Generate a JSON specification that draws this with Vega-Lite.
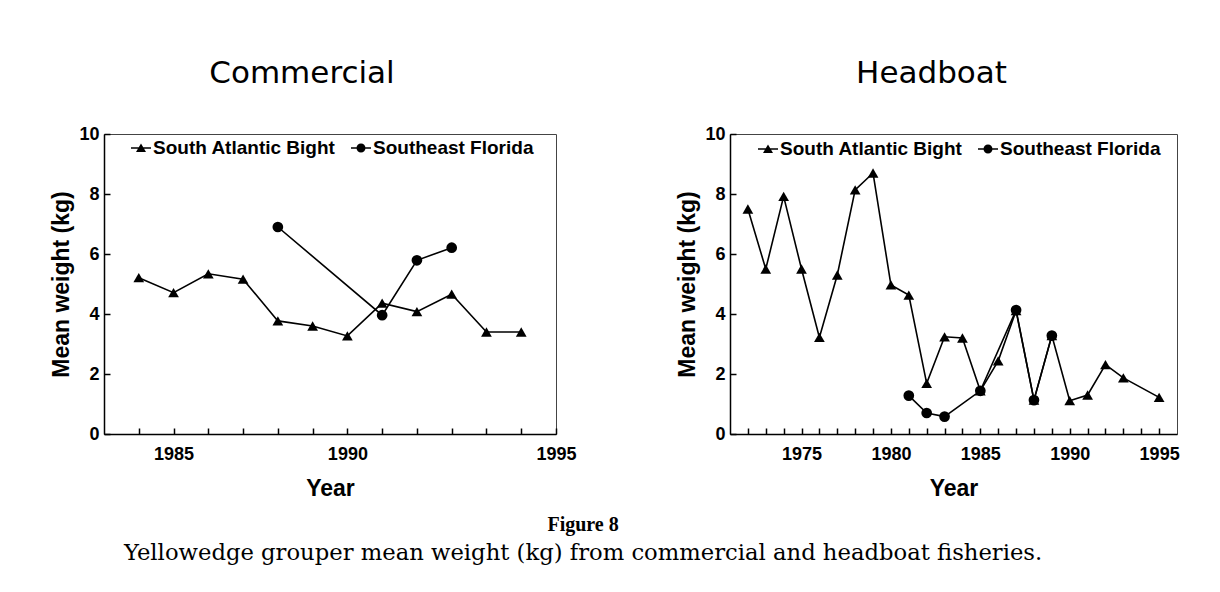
{
  "$schema": "https://vega.github.io/schema/vega-lite/v6.json",
  "autosize": {"type": "pad"},
  "padding": {"left": 50, "top": 57, "right": 10, "bottom": 20},
  "background": "white",
  "datasets": {
    "commercial": [
      {"series": "South Atlantic Bight", "year": 1984, "weight": 5.21},
      {"series": "South Atlantic Bight", "year": 1985, "weight": 4.71},
      {"series": "South Atlantic Bight", "year": 1986, "weight": 5.34},
      {"series": "South Atlantic Bight", "year": 1987, "weight": 5.16},
      {"series": "South Atlantic Bight", "year": 1988, "weight": 3.77},
      {"series": "South Atlantic Bight", "year": 1989, "weight": 3.6},
      {"series": "South Atlantic Bight", "year": 1990, "weight": 3.27},
      {"series": "South Atlantic Bight", "year": 1991, "weight": 4.36},
      {"series": "South Atlantic Bight", "year": 1992, "weight": 4.08},
      {"series": "South Atlantic Bight", "year": 1993, "weight": 4.66},
      {"series": "South Atlantic Bight", "year": 1994, "weight": 3.4},
      {"series": "South Atlantic Bight", "year": 1995, "weight": 3.4},
      {"series": "Southeast Florida", "year": 1988, "weight": 6.9},
      {"series": "Southeast Florida", "year": 1991, "weight": 3.96},
      {"series": "Southeast Florida", "year": 1992, "weight": 5.79},
      {"series": "Southeast Florida", "year": 1993, "weight": 6.21}
    ],
    "headboat": [
      {"series": "South Atlantic Bight", "year": 1972, "weight": 7.5},
      {"series": "South Atlantic Bight", "year": 1973, "weight": 5.5},
      {"series": "South Atlantic Bight", "year": 1974, "weight": 7.92},
      {"series": "South Atlantic Bight", "year": 1975, "weight": 5.5},
      {"series": "South Atlantic Bight", "year": 1976, "weight": 3.22},
      {"series": "South Atlantic Bight", "year": 1977, "weight": 5.3},
      {"series": "South Atlantic Bight", "year": 1978, "weight": 8.14},
      {"series": "South Atlantic Bight", "year": 1979, "weight": 8.7},
      {"series": "South Atlantic Bight", "year": 1980, "weight": 4.97},
      {"series": "South Atlantic Bight", "year": 1981, "weight": 4.63},
      {"series": "South Atlantic Bight", "year": 1982, "weight": 1.69},
      {"series": "South Atlantic Bight", "year": 1983, "weight": 3.24},
      {"series": "South Atlantic Bight", "year": 1984, "weight": 3.2},
      {"series": "South Atlantic Bight", "year": 1985, "weight": 1.44},
      {"series": "South Atlantic Bight", "year": 1986, "weight": 2.44},
      {"series": "South Atlantic Bight", "year": 1987, "weight": 4.11},
      {"series": "South Atlantic Bight", "year": 1988, "weight": 1.13},
      {"series": "South Atlantic Bight", "year": 1989, "weight": 3.28},
      {"series": "South Atlantic Bight", "year": 1990, "weight": 1.11},
      {"series": "South Atlantic Bight", "year": 1991, "weight": 1.3},
      {"series": "South Atlantic Bight", "year": 1992, "weight": 2.31},
      {"series": "South Atlantic Bight", "year": 1993, "weight": 1.87},
      {"series": "South Atlantic Bight", "year": 1995, "weight": 1.22},
      {"series": "Southeast Florida", "year": 1981, "weight": 1.28},
      {"series": "Southeast Florida", "year": 1982, "weight": 0.7},
      {"series": "Southeast Florida", "year": 1983, "weight": 0.58},
      {"series": "Southeast Florida", "year": 1985, "weight": 1.44},
      {"series": "Southeast Florida", "year": 1987, "weight": 4.13},
      {"series": "Southeast Florida", "year": 1988, "weight": 1.13},
      {"series": "Southeast Florida", "year": 1989, "weight": 3.28}
    ]
  },
  "title": {
    "text": "Figure 8",
    "subtitle": "Yellowedge grouper mean weight (kg) from commercial and headboat fisheries.",
    "orient": "bottom",
    "anchor": "middle",
    "dx": -32,
    "offset": 14,
    "font": "Liberation Serif",
    "fontSize": 20,
    "fontWeight": "bold",
    "color": "black",
    "subtitleFont": "DejaVu Serif",
    "subtitleFontSize": 22.7,
    "subtitleFontWeight": "normal",
    "subtitleColor": "black",
    "subtitlePadding": 7
  },
  "bounds": "flush",
  "spacing": 174,
  "resolve": {"scale": {"shape": "independent"}, "legend": {"shape": "independent"}},
  "hconcat": [
    {
      "title": {"text": "Commercial", "dx": -28},
      "width": 452,
      "height": 300,
      "data": {"name": "commercial"},
      "resolve": {"scale": {"shape": "independent"}, "legend": {"shape": "independent"}},
      "layer": [
        {
          "mark": {"type": "line", "color": "black", "strokeWidth": 1.6},
          "encoding": {
            "x": {"field": "year", "type": "quantitative", "scale": {"domain": [1983, 1996], "nice": false, "zero": false},
              "axis": {"values": [1984, 1985, 1986, 1987, 1988, 1989, 1990, 1991, 1992, 1993, 1994, 1995, 1996], "tickCount": 40, "format": "d",
                "labelExpr": "datum.value == 1985 || datum.value == 1990 ? datum.label : (datum.value == 1996 ? '1995' : '')",
                "labelOverlap": false, "labelFlush": false, "title": "Year",
                "ticks": true, "tickSize": -6, "tickWidth": 1.5, "tickColor": "black", "labelPadding": 17}},
            "y": {"field": "weight", "type": "quantitative", "scale": {"domain": [0, 10], "nice": false},
              "axis": {"values": [0, 2, 4, 6, 8, 10], "tickCount": 20, "format": "d", "title": "Mean weight (kg)", "labelOverlap": false,
                "ticks": true, "tickSize": -6, "tickWidth": 1.5, "tickColor": "black", "labelPadding": 11}},
            "detail": {"field": "series", "type": "nominal"}
          }
        },
        {
          "mark": {"type": "point", "filled": true, "color": "black", "size": 115, "opacity": 1},
          "encoding": {
            "x": {"field": "year", "type": "quantitative"},
            "y": {"field": "weight", "type": "quantitative"},
            "shape": {"field": "series", "type": "nominal",
              "scale": {"domain": ["South Atlantic Bight", "Southeast Florida"], "range": ["triangle-up", "circle"]},
              "legend": null}
          }
        },
        {
          "mark": {"type": "point", "filled": true, "color": "black", "size": 400, "opacity": 0},
          "encoding": {
            "x": {"field": "year", "type": "quantitative"},
            "y": {"field": "weight", "type": "quantitative"},
            "shape": {"field": "series", "type": "nominal",
              "scale": {"domain": ["South Atlantic Bight", "Southeast Florida"],
                "range": ["M-1,-0.08H1V0.08H-1ZM0,-0.45L0.5,0.4L-0.5,0.4Z", "M-1,-0.08H1V0.08H-1ZM0.45,0A0.45,0.45,0,1,1,-0.45,0A0.45,0.45,0,1,1,0.45,0Z"]},
              "legend": {"orient": "none", "legendX": 27, "legendY": 4}}
          }
        }
      ]
    },
    {
      "title": {"text": "Headboat", "dx": -22},
      "width": 447,
      "height": 300,
      "data": {"name": "headboat"},
      "resolve": {"scale": {"shape": "independent"}, "legend": {"shape": "independent"}},
      "layer": [
        {
          "mark": {"type": "line", "color": "black", "strokeWidth": 1.6},
          "encoding": {
            "x": {"field": "year", "type": "quantitative", "scale": {"domain": [1971, 1996], "nice": false, "zero": false},
              "axis": {"values": [1972, 1973, 1974, 1975, 1976, 1977, 1978, 1979, 1980, 1981, 1982, 1983, 1984, 1985, 1986, 1987, 1988, 1989, 1990, 1991, 1992, 1993, 1994, 1995], "tickCount": 40, "format": "d",
                "labelExpr": "datum.value % 5 == 0 ? datum.label : ''",
                "labelOverlap": false, "labelFlush": false, "title": "Year",
                "ticks": true, "tickSize": -6, "tickWidth": 1.5, "tickColor": "black", "labelPadding": 17}},
            "y": {"field": "weight", "type": "quantitative", "scale": {"domain": [0, 10], "nice": false},
              "axis": {"values": [0, 2, 4, 6, 8, 10], "tickCount": 20, "format": "d", "title": "Mean weight (kg)", "labelOverlap": false,
                "ticks": true, "tickSize": -6, "tickWidth": 1.5, "tickColor": "black", "labelPadding": 11}},
            "detail": {"field": "series", "type": "nominal"}
          }
        },
        {
          "mark": {"type": "point", "filled": true, "color": "black", "size": 115, "opacity": 1},
          "encoding": {
            "x": {"field": "year", "type": "quantitative"},
            "y": {"field": "weight", "type": "quantitative"},
            "shape": {"field": "series", "type": "nominal",
              "scale": {"domain": ["South Atlantic Bight", "Southeast Florida"], "range": ["triangle-up", "circle"]},
              "legend": null}
          }
        },
        {
          "mark": {"type": "point", "filled": true, "color": "black", "size": 400, "opacity": 0},
          "encoding": {
            "x": {"field": "year", "type": "quantitative"},
            "y": {"field": "weight", "type": "quantitative"},
            "shape": {"field": "series", "type": "nominal",
              "scale": {"domain": ["South Atlantic Bight", "Southeast Florida"],
                "range": ["M-1,-0.08H1V0.08H-1ZM0,-0.45L0.5,0.4L-0.5,0.4Z", "M-1,-0.08H1V0.08H-1ZM0.45,0A0.45,0.45,0,1,1,-0.45,0A0.45,0.45,0,1,1,0.45,0Z"]},
              "legend": {"orient": "none", "legendX": 28, "legendY": 5}}
          }
        }
      ]
    }
  ],
  "config": {
    "view": {"stroke": "#444", "strokeWidth": 1},
    "title": {"font": "DejaVu Sans", "fontSize": 31, "fontWeight": "normal", "color": "black", "offset": 35, "anchor": "middle"},
    "axis": {
      "grid": false,
      "domainColor": "black",
      "domainWidth": 1.5,
      "labelFont": "Liberation Sans",
      "labelFontSize": 18,
      "labelFontWeight": "bold",
      "labelColor": "black",
      "titleFont": "Liberation Sans",
      "titleFontSize": 23,
      "titleFontWeight": "bold",
      "titleColor": "black"
    },
    "axisX": {"titlePadding": 14},
    "axisY": {"titlePadding": 5},
    "legend": {
      "title": null,
      "direction": "horizontal",
      "padding": 0,
      "symbolSize": 400,
      "labelFont": "Liberation Sans",
      "labelFontSize": 19,
      "labelFontWeight": "bold",
      "labelColor": "black",
      "labelLimit": 400,
      "labelOffset": 2,
      "columnPadding": 15,
      "symbolStrokeWidth": 0,
      "symbolFillColor": "black",
      "symbolOpacity": 1
    }
  }
}
